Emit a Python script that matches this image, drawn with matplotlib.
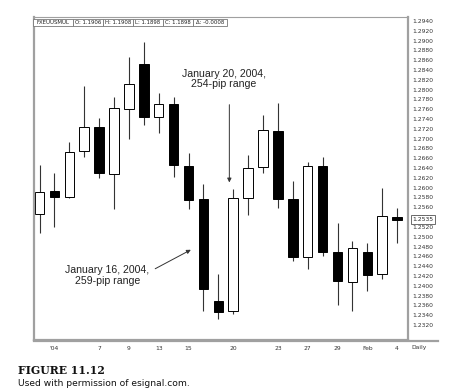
import matplotlib
matplotlib.use("Agg")
import matplotlib.pyplot as plt
from matplotlib.patches import Rectangle
from matplotlib.lines import Line2D

# daily EUR/USD candles, Jan 1 - Feb 4 2004
opens = [1.2546, 1.2594, 1.2580, 1.2674, 1.2724, 1.2628, 1.2761, 1.2852, 1.2745,
         1.2770, 1.2644, 1.2576, 1.2369, 1.2348, 1.2578, 1.2642, 1.2716, 1.2576,
         1.2459, 1.2644, 1.2469, 1.2407, 1.2469, 1.2423, 1.2540]
highs = [1.2646, 1.2629, 1.2694, 1.2808, 1.2743, 1.2784, 1.2866, 1.2897, 1.2794,
         1.2784, 1.2671, 1.2608, 1.2424, 1.2597, 1.2667, 1.2748, 1.2773, 1.2614,
         1.2652, 1.2662, 1.2527, 1.2492, 1.2487, 1.2600, 1.2558]
lows = [1.2508, 1.2519, 1.2578, 1.2663, 1.2619, 1.2556, 1.2699, 1.2727, 1.2711,
        1.2622, 1.2556, 1.2349, 1.2332, 1.2343, 1.2544, 1.2629, 1.2558, 1.2451,
        1.2434, 1.2461, 1.2361, 1.2349, 1.2390, 1.2414, 1.2488]
closes = [1.2592, 1.2580, 1.2672, 1.2723, 1.2630, 1.2763, 1.2812, 1.2745, 1.2770,
          1.2646, 1.2575, 1.2393, 1.2347, 1.2578, 1.2640, 1.2717, 1.2577, 1.2458,
          1.2644, 1.2468, 1.2409, 1.2476, 1.2422, 1.2542, 1.2535]

date_ticks = [1, 4, 6, 8, 10, 13, 16, 18, 20, 22, 24]
date_labels = ["'04", "7", "9", "13", "15", "20", "23", "27", "29", "Feb", "4"]
price_ticks = [1.2320 + 0.002 * k for k in range(32)]
last_price = 1.2535

header = ["FXEUUSMUL", "O: 1.1906", "H: 1.1908", "L: 1.1898", "C: 1.1898", "\u0394: -0.0008"]

W, H = 473, 391
fig = plt.figure(figsize=(W / 100, H / 100), dpi=100)
ax = fig.add_axes([34 / W, 1 - 340 / H, (408 - 34) / W, (340 - 17) / H])

for i in range(len(opens)):
    o, h, l, c = opens[i], highs[i], lows[i], closes[i]
    ax.vlines(i, l, h, color="#333333", lw=0.8, zorder=1)
    ax.bar(i, max(abs(c - o), 0.00015), bottom=min(o, c), width=0.64,
           color="white" if c >= o else "black", edgecolor="black", lw=0.7, zorder=2)

ax.set_xlim(-0.37, 24.73)
ax.set_ylim(1.22893, 1.29482)

ax.set_xticks(date_ticks)
ax.set_xticklabels(date_labels)
ax.yaxis.tick_right()
ax.set_yticks(price_ticks)
ax.set_yticklabels(["%.4f" % p for p in price_ticks])
ax.tick_params(axis="both", length=0, labelsize=4.3, colors="#333333")
ax.tick_params(axis="x", pad=4)
ax.tick_params(axis="y", pad=3)

for side in ["left", "bottom", "right"]:
    ax.spines[side].set_color("#a0a0a0")
    ax.spines[side].set_linewidth(1.6)
ax.spines["top"].set_color("#a0a0a0")
ax.spines["top"].set_linewidth(0.8)

# bottom rule runs on under the price scale
fig.add_artist(Line2D([34 / W, 438 / W], [1 - 341 / H, 1 - 341 / H],
                      color="#a0a0a0", lw=1.6))
fig.text(411 / W, 1 - 347 / H, "Daily", fontsize=4.3, color="#333333", va="center")

# last price box
ax.text(1.012, last_price, "%.4f" % last_price, transform=ax.get_yaxis_transform(),
        fontsize=4.3, va="center", ha="left", color="#222222", zorder=5,
        bbox=dict(boxstyle="square,pad=0.3", fc="white", ec="#555555", lw=0.6),
        clip_on=False)

# header strip
edges = [33, 73, 103, 133, 163, 193, 227]
for k, txt in enumerate(header):
    x0, x1 = edges[k], edges[k + 1]
    fig.add_artist(Rectangle((x0 / W, 1 - 26 / H), (x1 - x0) / W, 7 / H,
                             transform=fig.transFigure, fc="white",
                             ec="#777777", lw=0.6))
    fig.text((x0 + x1) / 2 / W, 1 - 22.5 / H, txt, fontsize=3.9, ha="center",
             va="center", color="#222222")

# annotations
ann_font = dict(family="Liberation Sans", fontsize=7.6, color="#222222")
ax.text(12.38, 1.2822, "January 20, 2004,\n254-pip range", ha="center", va="center",
        linespacing=1.05, **ann_font)
ax.annotate("", xy=(12.74, 1.2605), xytext=(12.74, 1.2775),
            arrowprops=dict(arrowstyle="-|>", color="#333333", lw=0.7, mutation_scale=6))
ax.text(4.55, 1.2421, "January 16, 2004,\n259-pip range", ha="center", va="center",
        linespacing=1.05, **ann_font)
ax.annotate("", xy=(10.32, 1.2476), xytext=(7.6, 1.2432),
            arrowprops=dict(arrowstyle="-|>", color="#333333", lw=0.7, mutation_scale=6))

# caption
fig.text(18 / W, 1 - 371 / H, "FIGURE 11.12", family="DejaVu Serif", weight="heavy",
         fontsize=7.8, va="center", color="#111111")
fig.text(18 / W, 1 - 383 / H, "Used with permission of esignal.com.",
         family="DejaVu Sans", fontsize=6.6, va="center", color="#111111")

fig.savefig("out.png", dpi=100)
